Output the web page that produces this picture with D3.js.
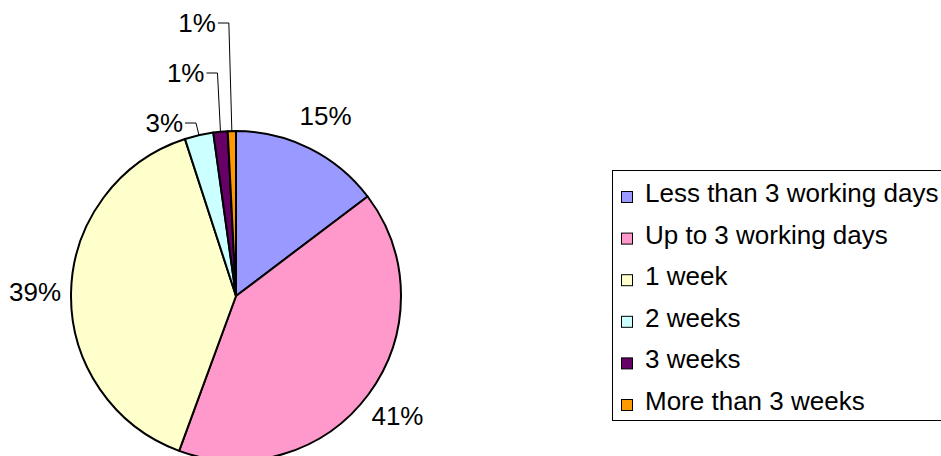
<!DOCTYPE html>
<html lang="en">
<head>
<meta charset="UTF-8">
<title>Pie</title>
<style>
body { margin: 0; background: #fff; }
svg { display: block; font-family: "Liberation Sans", Arial, sans-serif; }
</style>
</head>
<body>
<div id="plot"></div>
<script src="https://cdn.jsdelivr.net/npm/d3@7"></script>
<script>

const categories = ["Less than 3 working days", "Up to 3 working days", "1 week",
                    "2 weeks", "3 weeks", "More than 3 weeks"];
const values = [14.7, 40.9, 39.4, 2.8, 1.4, 0.8];
const pctLabels = ["15%", "41%", "39%", "3%", "1%", "1%"];
const colors = ["#9999ff", "#ff99cc", "#ffffcc", "#ccffff", "#660066", "#ff9900"];

const w = 941, h = 456;
const cx = 236, cy = 296, r = 165;
const fontSize = 26;

const svg = d3.select("#plot").append("svg")
    .attr("width", w)
    .attr("height", h);

const pie = d3.pie().sort(null).value(d => d);
const arcs = pie(values);
const arc = d3.arc().innerRadius(0).outerRadius(r);

const g = svg.append("g").attr("transform", `translate(${cx},${cy})`);

// slices
g.selectAll(".slice")
    .data(arcs)
    .join("path")
    .attr("class", "slice")
    .attr("d", arc)
    .attr("fill", (d, i) => colors[i])
    .attr("stroke", "#000")
    .attr("stroke-width", 2)
    .attr("stroke-linejoin", "round");

// labels: big slices sit just outside, small ones get stacked with leaders
const mid = d => (d.startAngle + d.endAngle) / 2;
let stack = 0;
arcs.forEach((d, i) => {
    const a = mid(d);
    if (d.value >= 5) {
        const lr = r + 36;
        g.append("text")
            .attr("x", lr * Math.sin(a))
            .attr("y", -lr * Math.cos(a))
            .attr("text-anchor", "middle")
            .attr("dominant-baseline", "central")
            .attr("font-size", fontSize)
            .text(pctLabels[i]);
    } else {
        const sx = r * Math.sin(a), sy = -r * Math.cos(a);
        const ly = -r - 8 - stack * 50;
        const ex = sx - 3;
        g.append("path")
            .attr("d", `M${sx},${sy}L${ex},${ly}L${ex - 11},${ly}`)
            .attr("fill", "none")
            .attr("stroke", "#000")
            .attr("stroke-width", 1);
        g.append("text")
            .attr("x", ex - 13)
            .attr("y", ly)
            .attr("text-anchor", "end")
            .attr("dominant-baseline", "central")
            .attr("font-size", fontSize)
            .text(pctLabels[i]);
        stack++;
    }
});

// legend
const legend = svg.append("g");
legend.append("rect")
    .attr("x", 612.5)
    .attr("y", 170.5)
    .attr("width", 340)
    .attr("height", 250)
    .attr("fill", "#fff")
    .attr("stroke", "#000")
    .attr("stroke-width", 1);

const ly = d3.scalePoint().domain(categories).range([202, 410]);

const rows = legend.selectAll(".row")
    .data(categories)
    .join("g")
    .attr("class", "row")
    .attr("transform", d => `translate(0,${ly(d)})`);

rows.append("rect")
    .attr("x", 621.5)
    .attr("y", -10.5)
    .attr("width", 11)
    .attr("height", 11)
    .attr("fill", (d, i) => colors[i])
    .attr("stroke", "#000")
    .attr("stroke-width", 1);

rows.append("text")
    .attr("x", 645)
    .attr("y", 0)
    .attr("font-size", fontSize)
    .text(d => d);
</script>
</body>
</html>
